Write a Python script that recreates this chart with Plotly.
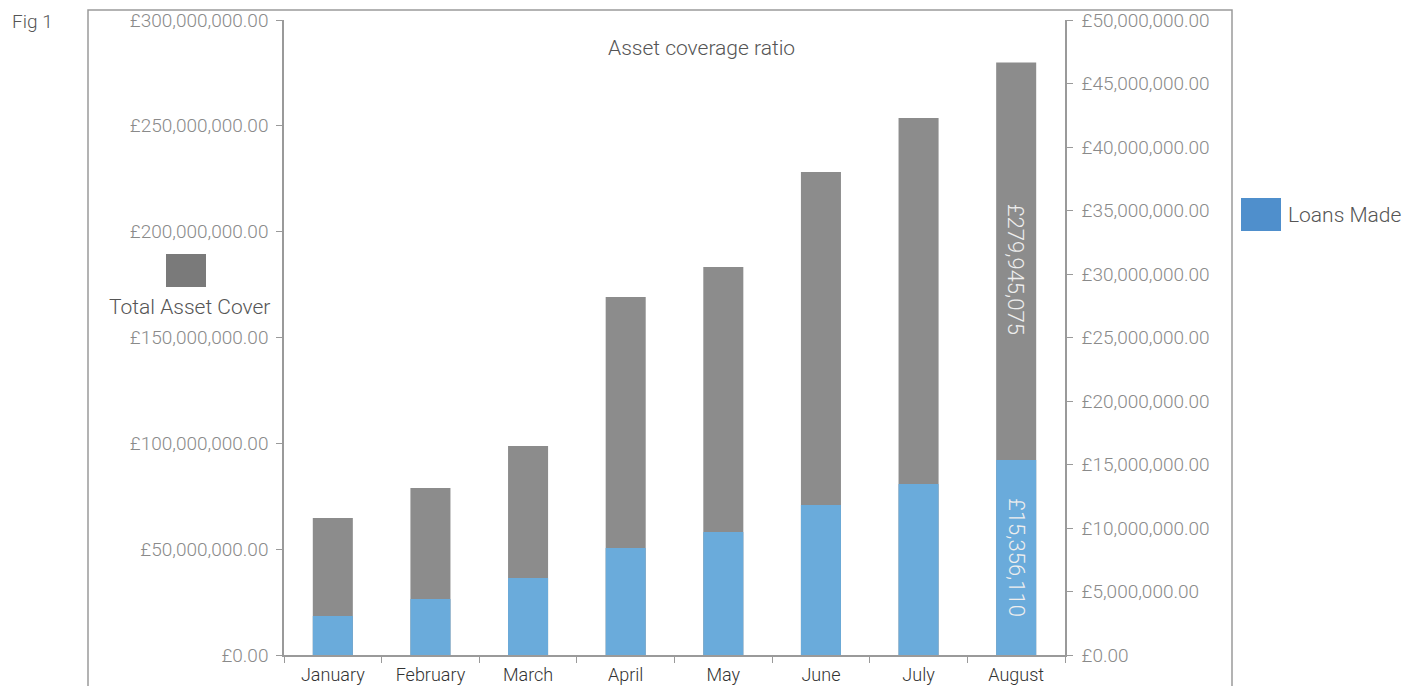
import plotly.graph_objects as go

months = ["January", "February", "March", "April", "May", "June", "July", "August"]
total_asset_cover = [64.7e6, 78.9e6, 98.7e6, 169.1e6, 183.3e6, 228.2e6, 253.7e6, 279945075]
loans_made = [3.07e6, 4.41e6, 6.06e6, 8.43e6, 9.69e6, 11.81e6, 13.46e6, 15356110]

FONT = "Roboto"
TICKC = "#8a8a8a"

# plot-area pixel geometry (used to place non-data decorations)
L, R, T, B = 284, 1065, 20, 655
W, H = R - L, B - T


def px(x):
    return (x - L) / W


def py(y):
    return (B - y) / H


fig = go.Figure()
fig.add_trace(go.Bar(x=months, y=total_asset_cover, name="Total Asset Cover",
                     marker=dict(color="#8c8c8c", line=dict(width=0)), width=0.41,
                     yaxis="y", showlegend=False))
fig.add_trace(go.Bar(x=months, y=loans_made, name="Loans Made",
                     marker=dict(color="#6aabdb", line=dict(width=0)), width=0.41,
                     yaxis="y2", showlegend=False))

ratio = 300e6 / 50e6
last = len(months) - 1
gray_mid = (total_asset_cover[last] + loans_made[last] * ratio) / 2
blue_mid = loans_made[last] * 0.5

fig.add_annotation(x=months[last], y=gray_mid, yref="y", yshift=-8,
                   text=f"£{total_asset_cover[last]:,.0f}",
                   textangle=90, showarrow=False, xanchor="center", yanchor="middle",
                   font=dict(family=FONT, size=22, color="#eeeeee", weight=300))
fig.add_annotation(x=months[last], y=blue_mid, yref="y2",
                   text=f"£{loans_made[last]:,.0f}",
                   textangle=90, showarrow=False, xanchor="center", yanchor="middle",
                   font=dict(family=FONT, size=22, color="#eeeeee", weight=300))

# Title and figure label
fig.add_annotation(xref="paper", yref="paper", x=px(701), y=py(48), text="Asset coverage ratio",
                   xanchor="center", yanchor="middle",
                   showarrow=False, font=dict(family=FONT, size=21, color="#555555", weight=300))
fig.add_annotation(xref="paper", yref="paper", x=px(10), xanchor="left", yanchor="middle",
                   y=py(22), text="Fig 1", showarrow=False,
                   font=dict(family=FONT, size=19, color="#555555", weight=300))

# Custom legend entries
fig.add_shape(type="rect", xref="paper", yref="paper",
              x0=px(166), x1=px(206), y0=py(287), y1=py(254),
              fillcolor="#7a7a7a", line=dict(width=0))
fig.add_annotation(xref="paper", yref="paper", x=px(189), y=py(307),
                   xanchor="center", yanchor="middle",
                   text="Total Asset Cover", showarrow=False,
                   font=dict(family=FONT, size=21, color="#555555", weight=300))
fig.add_shape(type="rect", xref="paper", yref="paper",
              x0=px(1241), x1=px(1281), y0=py(231), y1=py(198),
              fillcolor="#4f8fcc", line=dict(width=0))
fig.add_annotation(xref="paper", yref="paper", x=px(1286), xanchor="left", yanchor="middle",
                   y=py(215), text="Loans Made", showarrow=False,
                   font=dict(family=FONT, size=21, color="#555555", weight=300))

# Outer frame
fig.add_shape(type="rect", xref="paper", yref="paper", layer="below",
              x0=px(88), x1=px(1232), y0=py(720), y1=py(10),
              line=dict(color="#9a9a9a", width=1.5), fillcolor="rgba(0,0,0,0)")

axis_common = dict(showgrid=False, zeroline=False, showline=True, linecolor="#9a9a9a",
                   linewidth=1.5, ticks="outside", ticklen=6, tickcolor="#9a9a9a",
                   tickprefix="£", tickformat=",.2f", automargin=False,
                   tickfont=dict(family=FONT, size=19, color=TICKC, weight=300))

fig.update_layout(
    width=1421, height=686,
    margin=dict(l=L, r=1421 - R, t=T, b=686 - B),
    paper_bgcolor="white", plot_bgcolor="white",
    barmode="overlay",
    xaxis=dict(showgrid=False, zeroline=False, showline=True, linecolor="#9a9a9a", linewidth=1.5,
               ticks="outside", ticklen=6, tickcolor="#9a9a9a", tickson="boundaries",
               automargin=False, ticklabelstandoff=3,
               tickfont=dict(family=FONT, size=18, color="#333333", weight=300)),
    yaxis=dict(range=[0, 300e6], dtick=50e6, ticklabelstandoff=4, **axis_common),
    yaxis2=dict(range=[0, 50e6], dtick=5e6, overlaying="y", side="right",
                ticklabelstandoff=5, **axis_common),
)

fig.write_html("out.html")
